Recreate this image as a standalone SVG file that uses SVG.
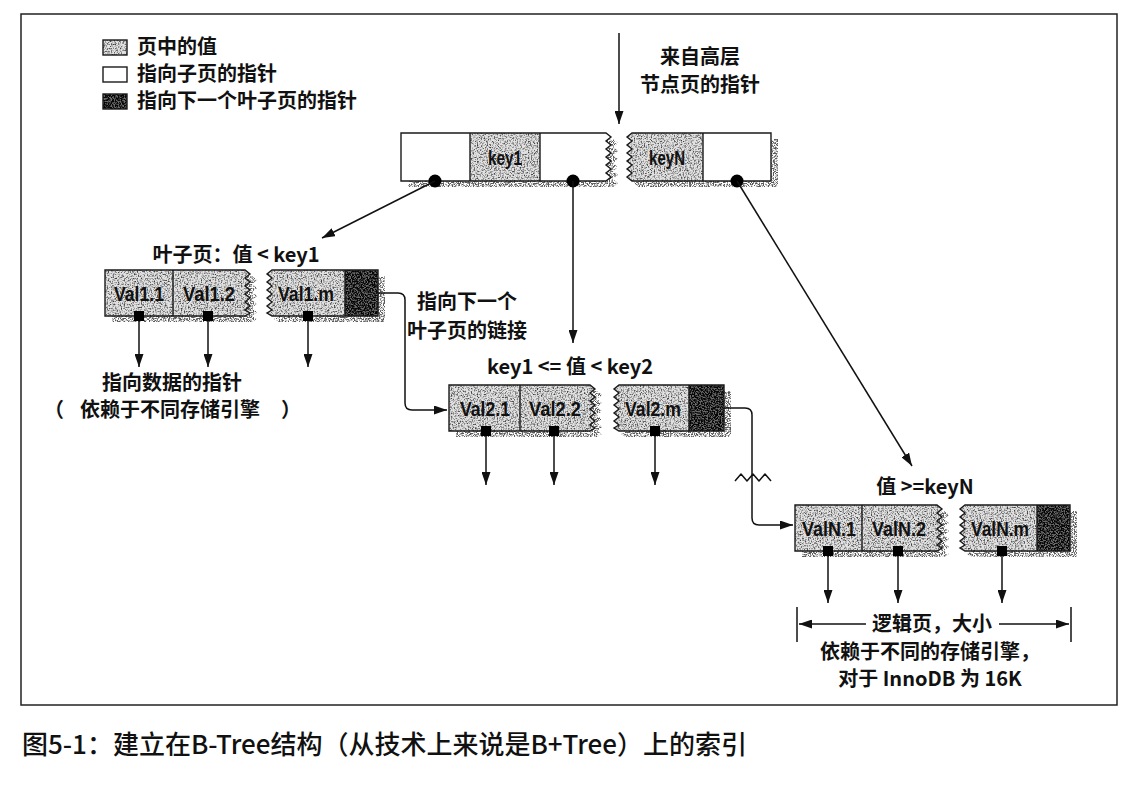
<svg xmlns="http://www.w3.org/2000/svg" xmlns:xlink="http://www.w3.org/1999/xlink" width="1138" height="802" viewBox="0 0 1138 802">
  <style>
    .cjk { font-family: "Noto Sans CJK SC", "Noto Sans", sans-serif; font-weight: 700; font-size: 20px; fill: #111; }
    .cap { font-family: "Noto Sans CJK SC", "Noto Sans", sans-serif; font-weight: 500; font-size: 26px; fill: #111; }
    .lbl { font-family: "Liberation Sans", Arial, sans-serif; font-weight: 700; font-size: 21px; fill: #111; text-anchor: middle; }
    .mid { text-anchor: middle; }
    .outline { fill: none; stroke: #1a1a1a; stroke-width: 1.4; }
    .val { fill: #e2e2e2; filter: url(#grain); }
    .dark { fill: #6a6a6a; filter: url(#grainDark); }
    .shadow { fill: #000; filter: url(#speckle); }
    .wire { fill: none; stroke: #111; stroke-width: 1.5; }
    .arrow { fill: none; stroke: #111; stroke-width: 1.5; marker-end: url(#ah); }
  </style>
  <defs>
    <!-- fine stipple for the value cells -->
    <filter id="grain" x="0" y="0" width="1" height="1" color-interpolation-filters="sRGB">
      <feTurbulence type="fractalNoise" baseFrequency="0.7" numOctaves="2" seed="4" result="n"/>
      <feColorMatrix in="n" type="matrix" values="0 0 0 0 0.25  0 0 0 0 0.25  0 0 0 0 0.25  3 0 0 0 -1.35" result="d"/>
      <feComposite in="d" in2="SourceAlpha" operator="in" result="dc"/>
      <feMerge><feMergeNode in="SourceGraphic"/><feMergeNode in="dc"/></feMerge>
    </filter>
    <filter id="grainDark" x="0" y="0" width="1" height="1" color-interpolation-filters="sRGB">
      <feTurbulence type="fractalNoise" baseFrequency="0.7" numOctaves="2" seed="7" result="n"/>
      <feColorMatrix in="n" type="matrix" values="0 0 0 0 0.02  0 0 0 0 0.02  0 0 0 0 0.02  5 0 0 0 -1.9" result="d"/>
      <feComposite in="d" in2="SourceAlpha" operator="in" result="dc"/>
      <feMerge><feMergeNode in="SourceGraphic"/><feMergeNode in="dc"/></feMerge>
    </filter>
    <!-- speckled drop shadow -->
    <filter id="speckle" x="0" y="0" width="1" height="1" color-interpolation-filters="sRGB">
      <feTurbulence type="fractalNoise" baseFrequency="0.8" numOctaves="2" seed="9" result="n"/>
      <feColorMatrix in="n" type="matrix" values="0 0 0 0 0.35  0 0 0 0 0.35  0 0 0 0 0.35  5 0 0 0 -2.1" result="d"/>
      <feComposite in="d" in2="SourceAlpha" operator="in"/>
    </filter>
    <marker id="ah" viewBox="0 0 13 9" refX="13" refY="4.5" markerWidth="13" markerHeight="9" markerUnits="userSpaceOnUse" orient="auto">
      <path d="M0,0 L13,4.5 L0,9 Z" fill="#111"/>
    </marker>
    <!-- page outlines with torn (zigzag) edges -->
    <path id="root-l" d="M401,133 H606 l5,4 -5,4 5,4 -5,4 5,4 -5,4 5,4 -5,4 5,4 -5,4 5,4 -5,4 H401 Z"/>
    <path id="root-r" d="M632,133 H771 V181 H632 l-5,-4 5,-4 -5,-4 5,-4 -5,-4 5,-4 -5,-4 5,-4 -5,-4 5,-4 -5,-4 5,-4 Z"/>
    <path id="leaf1-l" d="M105,270 H245 l5,4 -5,4 5,4 -5,4 5,4 -5,4 5,4 -5,4 5,4 -5,4 5,3 -5,3 H105 Z"/>
    <path id="leaf1-r" d="M272,270 H378 V316 H272 l-5,-3 5,-3 -5,-4 5,-4 -5,-4 5,-4 -5,-4 5,-4 -5,-4 5,-4 -5,-4 5,-4 Z"/>
    <path id="leaf2-l" d="M449,385 H590 l5,4 -5,4 5,4 -5,4 5,4 -5,4 5,4 -5,4 5,4 -5,4 5,3 -5,3 H449 Z"/>
    <path id="leaf2-r" d="M619,385 H724 V431 H619 l-5,-3 5,-3 -5,-4 5,-4 -5,-4 5,-4 -5,-4 5,-4 -5,-4 5,-4 -5,-4 5,-4 Z"/>
    <path id="leafN-l" d="M795,505 H937 l5,4 -5,4 5,4 -5,4 5,4 -5,4 5,4 -5,4 5,4 -5,4 5,3 -5,3 H795 Z"/>
    <path id="leafN-r" d="M965,505 H1070 V551 H965 l-5,-3 5,-3 -5,-4 5,-4 -5,-4 5,-4 -5,-4 5,-4 -5,-4 5,-4 -5,-4 5,-4 Z"/>
  </defs>

  <rect width="1138" height="802" fill="#fff"/>
  <rect id="frame" x="21" y="14" width="1096" height="691" fill="none" stroke="#222" stroke-width="1.5"/>

  <g id="legend">
    <rect x="103" y="40" width="24" height="15" class="val"/>
    <rect x="103" y="40" width="24" height="15" class="outline"/>
    <text x="137" y="54" class="cjk">页中的值</text>
    <rect x="103" y="67" width="24" height="15" fill="#fff" class="outline"/>
    <text x="137" y="81" class="cjk">指向子页的指针</text>
    <rect x="103" y="94" width="24" height="15" class="dark"/>
    <rect x="103" y="94" width="24" height="15" class="outline"/>
    <text x="137" y="108" class="cjk">指向下一个叶子页的指针</text>
  </g>

  <g id="node-root">
    <use href="#root-l" transform="translate(7,6)" class="shadow"/>
    <use href="#root-r" transform="translate(7,6)" class="shadow"/>
    <use href="#root-l" fill="#fff"/>
    <rect x="470" y="133" width="70" height="48" class="val"/>
    <use href="#root-r" class="val"/>
    <rect x="703" y="133" width="68" height="48" fill="#fff"/>
    <use href="#root-l" class="outline"/>
    <use href="#root-r" class="outline"/>
    <path d="M470,133 V181 M540,133 V181 M703,133 V181" class="outline"/>
    <text x="505" y="165" class="lbl" textLength="34" lengthAdjust="spacingAndGlyphs">key1</text>
    <text x="667" y="165" class="lbl" textLength="36" lengthAdjust="spacingAndGlyphs">keyN</text>
    <circle cx="435" cy="181" r="6.5" fill="#000"/>
    <circle cx="573" cy="181" r="6.5" fill="#000"/>
    <circle cx="737" cy="181" r="6.5" fill="#000"/>
  </g>

  <g id="leaf-1">
    <use href="#leaf1-l" transform="translate(7,6)" class="shadow"/>
    <use href="#leaf1-r" transform="translate(7,6)" class="shadow"/>
    <use href="#leaf1-l" class="val"/>
    <use href="#leaf1-r" class="val"/>
    <rect x="345" y="270" width="33" height="46" class="dark"/>
    <use href="#leaf1-l" class="outline"/>
    <use href="#leaf1-r" class="outline"/>
    <path d="M173,270 V316 M345,270 V316" class="outline"/>
    <text x="139" y="301" class="lbl" textLength="50" lengthAdjust="spacingAndGlyphs">Val1.1</text>
    <text x="209" y="301" class="lbl" textLength="52" lengthAdjust="spacingAndGlyphs">Val1.2</text>
    <text x="306" y="301" class="lbl" textLength="56" lengthAdjust="spacingAndGlyphs">Val1.m</text>
    <rect x="134" y="311" width="10" height="10" fill="#000"/>
    <rect x="203" y="311" width="10" height="10" fill="#000"/>
    <rect x="303" y="311" width="10" height="10" fill="#000"/>
  </g>

  <g id="leaf-2">
    <use href="#leaf2-l" transform="translate(7,6)" class="shadow"/>
    <use href="#leaf2-r" transform="translate(7,6)" class="shadow"/>
    <use href="#leaf2-l" class="val"/>
    <use href="#leaf2-r" class="val"/>
    <rect x="689" y="385" width="35" height="46" class="dark"/>
    <use href="#leaf2-l" class="outline"/>
    <use href="#leaf2-r" class="outline"/>
    <path d="M520,385 V431 M689,385 V431" class="outline"/>
    <text x="485" y="416" class="lbl" textLength="50" lengthAdjust="spacingAndGlyphs">Val2.1</text>
    <text x="555" y="416" class="lbl" textLength="52" lengthAdjust="spacingAndGlyphs">Val2.2</text>
    <text x="653" y="416" class="lbl" textLength="56" lengthAdjust="spacingAndGlyphs">Val2.m</text>
    <rect x="481" y="426" width="10" height="10" fill="#000"/>
    <rect x="549" y="426" width="10" height="10" fill="#000"/>
    <rect x="650" y="426" width="10" height="10" fill="#000"/>
  </g>

  <g id="leaf-n">
    <use href="#leafN-l" transform="translate(7,6)" class="shadow"/>
    <use href="#leafN-r" transform="translate(7,6)" class="shadow"/>
    <use href="#leafN-l" class="val"/>
    <use href="#leafN-r" class="val"/>
    <rect x="1037" y="505" width="33" height="46" class="dark"/>
    <use href="#leafN-l" class="outline"/>
    <use href="#leafN-r" class="outline"/>
    <path d="M862,505 V551 M1037,505 V551" class="outline"/>
    <text x="829" y="536" class="lbl" textLength="54" lengthAdjust="spacingAndGlyphs">ValN.1</text>
    <text x="899" y="536" class="lbl" textLength="54" lengthAdjust="spacingAndGlyphs">ValN.2</text>
    <text x="1000" y="536" class="lbl" textLength="58" lengthAdjust="spacingAndGlyphs">ValN.m</text>
    <rect x="823" y="546" width="10" height="10" fill="#000"/>
    <rect x="893" y="546" width="10" height="10" fill="#000"/>
    <rect x="997" y="546" width="10" height="10" fill="#000"/>
  </g>

  <g id="connectors">
    <!-- pointer from the parent level -->
    <line x1="619" y1="33" x2="619" y2="124" class="arrow"/>
    <!-- child pointers of the root page -->
    <line x1="435" y1="181" x2="322" y2="238" class="arrow"/>
    <line x1="573" y1="181" x2="573" y2="343" class="arrow"/>
    <line x1="737" y1="181" x2="912" y2="466" class="arrow"/>
    <!-- next-leaf links -->
    <path d="M378,293 H398 Q405,293 405,300 V403 Q405,410 412,410 H447" class="arrow"/>
    <path d="M724,408 H745 Q752,408 752,415 V518 Q752,525 759,525 H793" class="arrow"/>
    <path d="M735,481 L741,474 L747,481 L753,474 L759,481 L765,474 L771,481" class="wire" stroke-linejoin="round"/>
    <!-- row pointers -->
    <line x1="139" y1="321" x2="139" y2="367" class="arrow"/>
    <line x1="208" y1="321" x2="208" y2="367" class="arrow"/>
    <line x1="308" y1="321" x2="308" y2="367" class="arrow"/>
    <line x1="486" y1="436" x2="486" y2="485" class="arrow"/>
    <line x1="554" y1="436" x2="554" y2="485" class="arrow"/>
    <line x1="655" y1="436" x2="655" y2="485" class="arrow"/>
    <line x1="828" y1="556" x2="828" y2="603" class="arrow"/>
    <line x1="898" y1="556" x2="898" y2="603" class="arrow"/>
    <line x1="1002" y1="556" x2="1002" y2="603" class="arrow"/>
    <!-- page size dimension -->
    <line x1="797" y1="607" x2="797" y2="642" class="wire"/>
    <line x1="1071" y1="607" x2="1071" y2="642" class="wire"/>
    <line x1="866" y1="624" x2="799" y2="624" class="arrow"/>
    <line x1="999" y1="624" x2="1069" y2="624" class="arrow"/>
  </g>

  <g id="labels">
    <text x="700" y="64" class="cjk mid">来自高层</text>
    <text x="700" y="92" class="cjk mid">节点页的指针</text>
    <text x="236" y="262" class="cjk mid">叶子页：值 &lt; key1</text>
    <text x="467" y="309" class="cjk mid">指向下一个</text>
    <text x="467" y="338" class="cjk mid">叶子页的链接</text>
    <text x="570" y="374" class="cjk mid">key1 &lt;= 值 &lt; key2</text>
    <text x="172" y="390" class="cjk mid">指向数据的指针</text>
    <text y="417" class="cjk"><tspan x="44">（</tspan><tspan x="80">依赖于不同存储引擎</tspan><tspan x="281">）</tspan></text>
    <text x="925" y="494" class="cjk mid">值 &gt;=keyN</text>
    <text x="932" y="631" class="cjk mid">逻辑页，大小</text>
    <text x="930" y="659" class="cjk mid">依赖于不同的存储引擎，</text>
    <text x="930" y="686" class="cjk mid">对于 InnoDB 为 16K</text>
  </g>

  <text id="caption" x="22" y="754" class="cap">图5-1：建立在B-Tree结构（从技术上来说是B+Tree）上的索引</text>
</svg>
